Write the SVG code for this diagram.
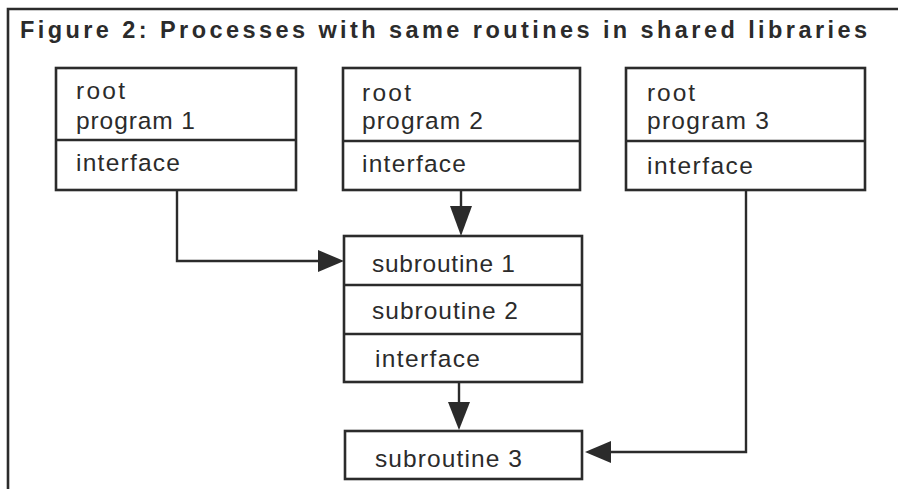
<svg xmlns="http://www.w3.org/2000/svg" width="898" height="489" viewBox="0 0 898 489">
<style>
  .box { fill: none; stroke: #2b2b2b; stroke-width: 2.6; }
  .ln { fill: none; stroke: #2b2b2b; stroke-width: 2.4; }
  .t { font-family: "Liberation Sans", Arial, sans-serif; font-size: 24.5px; fill: #2b2b2b; }
  .title { font-family: "Liberation Sans", Arial, sans-serif; font-size: 23.5px; font-weight: bold; fill: #2b2b2b; }
</style>
<rect width="898" height="489" fill="#ffffff"/>
<g id="frame">
  <path class="box" d="M8,489 L8,9 L898,9"/>
  <text class="title" x="20" y="38" textLength="847" lengthAdjust="spacing">Figure 2: Processes with same routines in shared libraries</text>
</g>
<g id="connectors">
  <path class="ln" d="M177,190 L177,261 L318,261"/>
  <path d="M318,250 L344,261 L318,272 Z" fill="#2b2b2b"/>
  <path class="ln" d="M461,190 L461,207"/>
  <path d="M450,206 L461,236 L472,206 Z" fill="#2b2b2b"/>
  <path class="ln" d="M459,382 L459,403"/>
  <path d="M448,402 L459,430 L470,402 Z" fill="#2b2b2b"/>
  <path class="ln" d="M746,190 L746,452 L610,452"/>
  <path d="M611,441 L585,452 L611,463 Z" fill="#2b2b2b"/>
</g>
<g id="root1">
  <rect class="box" x="56" y="68" width="240" height="122"/>
  <line class="box" x1="56" y1="140" x2="296" y2="140"/>
  <text class="t" x="76" y="99" textLength="49" lengthAdjust="spacing">root</text>
  <text class="t" x="76" y="129" textLength="119" lengthAdjust="spacing">program 1</text>
  <text class="t" x="76" y="171" textLength="104" lengthAdjust="spacing">interface</text>
</g>
<g id="root2">
  <rect class="box" x="343" y="68" width="237" height="122"/>
  <line class="box" x1="343" y1="141" x2="580" y2="141"/>
  <text class="t" x="362" y="101" textLength="49" lengthAdjust="spacing">root</text>
  <text class="t" x="362" y="129" textLength="121" lengthAdjust="spacing">program 2</text>
  <text class="t" x="362" y="172" textLength="104" lengthAdjust="spacing">interface</text>
</g>
<g id="root3">
  <rect class="box" x="626" y="68" width="239" height="122"/>
  <line class="box" x1="626" y1="141" x2="865" y2="141"/>
  <text class="t" x="647" y="101" textLength="48" lengthAdjust="spacing">root</text>
  <text class="t" x="647" y="129" textLength="122" lengthAdjust="spacing">program 3</text>
  <text class="t" x="647" y="174" textLength="106" lengthAdjust="spacing">interface</text>
</g>
<g id="shared">
  <rect class="box" x="344" y="236" width="238" height="146"/>
  <line class="box" x1="344" y1="285" x2="582" y2="285"/>
  <line class="box" x1="344" y1="334" x2="582" y2="334"/>
  <text class="t" x="372" y="272" textLength="143" lengthAdjust="spacing">subroutine 1</text>
  <text class="t" x="372" y="319" textLength="146" lengthAdjust="spacing">subroutine 2</text>
  <text class="t" x="375" y="367" textLength="105" lengthAdjust="spacing">interface</text>
</g>
<g id="sub3">
  <rect class="box" x="345" y="431" width="237" height="48"/>
  <text class="t" x="375" y="467" textLength="147" lengthAdjust="spacing">subroutine 3</text>
</g>
</svg>
